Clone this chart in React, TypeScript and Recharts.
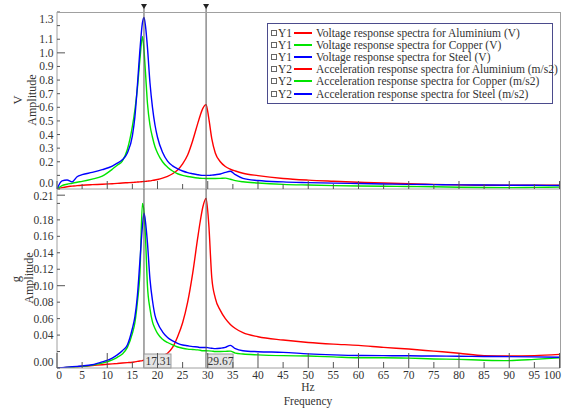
import React from 'react';
import { LineChart, Line, XAxis, YAxis, ReferenceLine } from 'recharts';

// ---------- data ----------
const freq = [0, 1, 2, 3, 4, 5, 7, 9, 11, 12, 13, 14, 15, 15.5, 16, 16.5, 17, 17.31, 17.6, 18, 18.5, 19, 19.5, 20, 21, 22, 23, 24, 25, 26, 27, 28, 28.5, 29, 29.67, 30.2, 30.8, 31.5, 32.5, 33.5, 34.5, 35.5, 37, 40, 45, 50, 55, 60, 65, 70, 75, 80, 85, 90, 95, 100];

const voltAluminium = [0, 0.01, 0.017, 0.021, 0.025, 0.028, 0.032, 0.035, 0.039, 0.041, 0.044, 0.046, 0.048, 0.05, 0.051, 0.052, 0.054, 0.055, 0.056, 0.058, 0.06, 0.063, 0.066, 0.07, 0.08, 0.093, 0.112, 0.14, 0.185, 0.25, 0.355, 0.48, 0.54, 0.59, 0.62, 0.52, 0.37, 0.265, 0.2, 0.165, 0.145, 0.132, 0.116, 0.098, 0.077, 0.065, 0.057, 0.05, 0.044, 0.039, 0.034, 0.03, 0.028, 0.027, 0.027, 0.028];
const voltCopper = [0, 0.025, 0.035, 0.042, 0.05, 0.056, 0.072, 0.095, 0.145, 0.175, 0.205, 0.29, 0.46, 0.58, 0.74, 0.95, 1.12, 1.02, 0.86, 0.63, 0.47, 0.38, 0.31, 0.265, 0.2, 0.16, 0.132, 0.112, 0.1, 0.092, 0.086, 0.081, 0.079, 0.078, 0.077, 0.077, 0.077, 0.077, 0.078, 0.08, 0.072, 0.062, 0.053, 0.044, 0.034, 0.029, 0.025, 0.022, 0.02, 0.018, 0.016, 0.013, 0.011, 0.01, 0.012, 0.014];
const voltSteel = [0, 0.06, 0.066, 0.052, 0.09, 0.105, 0.122, 0.142, 0.168, 0.19, 0.215, 0.265, 0.39, 0.53, 0.76, 1.02, 1.22, 1.26, 1.2, 1.04, 0.78, 0.6, 0.47, 0.38, 0.27, 0.205, 0.17, 0.148, 0.132, 0.12, 0.112, 0.105, 0.102, 0.1, 0.1, 0.1, 0.102, 0.105, 0.11, 0.122, 0.13, 0.105, 0.078, 0.062, 0.052, 0.047, 0.043, 0.04, 0.037, 0.034, 0.032, 0.03, 0.029, 0.028, 0.027, 0.026];

const accelAluminium = [0, 0.0003, 0.0006, 0.001, 0.0015, 0.002, 0.003, 0.004, 0.005, 0.0055, 0.006, 0.0065, 0.007, 0.0075, 0.008, 0.0085, 0.009, 0.0095, 0.01, 0.0105, 0.011, 0.012, 0.013, 0.0135, 0.015, 0.018, 0.025, 0.038, 0.055, 0.08, 0.115, 0.158, 0.178, 0.195, 0.206, 0.175, 0.11, 0.085, 0.07, 0.06, 0.053, 0.048, 0.043, 0.038, 0.034, 0.031, 0.029, 0.0275, 0.025, 0.023, 0.0205, 0.018, 0.015, 0.0145, 0.015, 0.0165];
const accelCopper = [0, 0.0003, 0.0006, 0.001, 0.0015, 0.002, 0.0035, 0.006, 0.01, 0.013, 0.017, 0.025, 0.042, 0.055, 0.08, 0.115, 0.2, 0.19, 0.16, 0.1, 0.072, 0.056, 0.048, 0.042, 0.035, 0.031, 0.028, 0.0255, 0.024, 0.023, 0.0225, 0.022, 0.0215, 0.021, 0.021, 0.0208, 0.0205, 0.02, 0.02, 0.0202, 0.0205, 0.018, 0.017, 0.016, 0.015, 0.0145, 0.0135, 0.0125, 0.0125, 0.012, 0.011, 0.0105, 0.0095, 0.009, 0.0105, 0.0125];
const accelSteel = [0, 0.0005, 0.001, 0.0015, 0.002, 0.0025, 0.004, 0.0075, 0.012, 0.016, 0.021, 0.028, 0.048, 0.062, 0.088, 0.13, 0.172, 0.188, 0.178, 0.152, 0.108, 0.082, 0.064, 0.055, 0.044, 0.037, 0.033, 0.03, 0.028, 0.027, 0.026, 0.0255, 0.025, 0.025, 0.025, 0.0245, 0.024, 0.0235, 0.024, 0.025, 0.0275, 0.0235, 0.021, 0.0198, 0.019, 0.0172, 0.016, 0.0152, 0.015, 0.0148, 0.0145, 0.0143, 0.014, 0.0138, 0.0135, 0.013];

const materials = ['Aluminium', 'Copper', 'Steel'];
const seriesColors = ['#ff0000', '#00e400', '#0000ff'];
const cursorFreqs = [17.31, 29.67];

const xTicks = [0, 5, 10, 15, 20, 25, 30, 35, 40, 45, 50, 55, 60, 65, 70, 75, 80, 85, 90, 95, 100];
const vTicks = [0, 0.1, 0.2, 0.3, 0.4, 0.5, 0.6, 0.7, 0.8, 0.9, 1.0, 1.1, 1.2, 1.3];
const vTickLabels = [0, 0.2, 0.3, 0.4, 0.5, 0.6, 0.7, 0.8, 0.9, 1.0, 1.1, 1.3];
const vLongTicks = [1.0];
const gTicks = [0, 0.02, 0.04, 0.06, 0.08, 0.1, 0.12, 0.14, 0.16, 0.18, 0.2, 0.21];
const gTickLabels = [0, 0.04, 0.06, 0.08, 0.1, 0.12, 0.14, 0.16, 0.18, 0.21];
const gLongTicks = [0.1, 0.21];

const table = freq.map((f, i) => ({
  f,
  vAl: voltAluminium[i],
  vCu: voltCopper[i],
  vSt: voltSteel[i],
  gAl: accelAluminium[i],
  gCu: accelCopper[i],
  gSt: accelSteel[i],
}));

const legendRows = [
  ...materials.map((m, i) => ({ axis: 'Y1', color: seriesColors[i], text: `Voltage response spectra for ${m} (V)` })),
  ...materials.map((m, i) => ({ axis: 'Y2', color: seriesColors[i], text: `Acceleration response spectra for ${m} (m/s2)` })),
];

// ---------- styling ----------
const FONT = "'Liberation Serif', 'Times New Roman', Times, serif";
const TEXT = '#333';
const AXIS = '#a0a0a0';
const TICK = '#555';
const W = 568;
const H = 410;
const X_MAX = 100.1;

const makeXTick = (showLabels: boolean, majorLen: number, minorLen: number) => (props: any) => {
  const { x, y, payload } = props;
  const v = payload.value;
  const len = v % 10 === 0 ? majorLen : minorLen;
  let tx = x;
  let anchor: 'middle' | 'end' = 'middle';
  if (v === 0) tx = x + 2;
  if (v === 100) {
    tx = x + 1.5;
    anchor = 'end';
  }
  return (
    <g>
      <line x1={x} x2={x} y1={y} y2={y - len} stroke={TICK} strokeWidth={1} />
      {showLabels && (
        <text x={tx} y={y + 11} textAnchor={anchor} style={{ fontFamily: FONT }} fontSize={11.5} fill={TEXT}>
          {v}
        </text>
      )}
    </g>
  );
};

const makeYTick = (labels: number[], longs: number[], digits: number, shifts: Record<string, number>) => (props: any) => {
  const { x, y, payload } = props;
  const v = payload.value;
  const len = longs.includes(v) ? 8 : 3;
  const show = labels.includes(v);
  const shift = shifts[String(v)] || 0;
  return (
    <g>
      <line x1={x} x2={x + len} y1={y} y2={y} stroke={TICK} strokeWidth={1} />
      {show && (
        <text x={x - 3.5} y={y + shift + 4} textAnchor="end" style={{ fontFamily: FONT }} fontSize={11.5} fill={TEXT}>
          {v.toFixed(digits)}
        </text>
      )}
    </g>
  );
};

const topCursorLabel = (props: any) => {
  const vb = props.viewBox || {};
  const x = vb.x;
  const y = vb.y;
  return (
    <g>
      <line x1={x} x2={x} y1={y - 7} y2={y} stroke="#555" strokeWidth={1} />
      <polygon points={`${x - 3},${y - 8} ${x + 3},${y - 8} ${x},${y - 3}`} fill="#222" />
    </g>
  );
};

const makeBottomCursorLabel = (value: number) => (props: any) => {
  const vb = props.viewBox || {};
  const x = vb.x;
  const yb = vb.y + vb.height;
  return (
    <g>
      <rect x={x} y={yb - 14} width={27} height={14} fill="#e4e4e4" stroke="#999" strokeWidth={1} />
      <text x={x + 1.5} y={yb - 3} style={{ fontFamily: FONT }} fontSize={11.5} fill={TEXT}>
        {value.toFixed(2)}
      </text>
    </g>
  );
};

const vKeys = ['vAl', 'vCu', 'vSt'];
const gKeys = ['gAl', 'gCu', 'gSt'];

const titleStyle = { fontFamily: FONT };

export default function App() {
  return (
    <div style={{ position: 'absolute', left: 0, top: 0, width: W, height: H, background: '#fff', fontFamily: FONT }}>
      {/* top panel: voltage */}
      <div style={{ position: 'absolute', left: 0, top: 0 }}>
        <LineChart width={W} height={H} data={table} margin={{ top: 12, right: 8, left: 0, bottom: H - 189 - 20 }}>
          <XAxis
            dataKey="f"
            type="number"
            domain={[0, X_MAX]}
            ticks={xTicks}
            interval={0}
            allowDataOverflow
            height={20}
            stroke={AXIS}
            tickLine={false}
            tickSize={0}
            tickMargin={0}
            tick={makeXTick(false, 8, 5)}
          />
          <YAxis
            type="number"
            domain={[0, 1.3]}
            ticks={vTicks}
            interval={0}
            allowDataOverflow
            width={57}
            stroke={AXIS}
            tickLine={false}
            tickSize={0}
            tickMargin={0}
            tick={makeYTick(vTickLabels, vLongTicks, 1, { '0': -6, '1.3': 6.5 })}
          />
          {vKeys.map((k, i) => (
            <Line key={k} dataKey={k} type="monotone" stroke={seriesColors[i]} strokeWidth={1.4} dot={false} isAnimationActive={false} />
          ))}
          {cursorFreqs.map((c) => (
            <ReferenceLine key={c} x={c} stroke="#555" strokeWidth={1} label={topCursorLabel} ifOverflow="visible" />
          ))}
        </LineChart>
      </div>

      {/* bottom panel: acceleration */}
      <div style={{ position: 'absolute', left: 0, top: 0 }}>
        <LineChart width={W} height={H} data={table} margin={{ top: 189, right: 8, left: 0, bottom: H - 368 - 20 }}>
          <XAxis
            dataKey="f"
            type="number"
            domain={[0, X_MAX]}
            ticks={xTicks}
            interval={0}
            allowDataOverflow
            height={20}
            stroke={AXIS}
            tickLine={false}
            tickSize={0}
            tickMargin={0}
            tick={makeXTick(true, 15, 6)}
          />
          <YAxis
            type="number"
            domain={[0, 0.2175]}
            ticks={gTicks}
            interval={0}
            allowDataOverflow
            width={57}
            stroke={AXIS}
            tickLine={false}
            tickSize={0}
            tickMargin={0}
            tick={makeYTick(gTickLabels, gLongTicks, 2, { '0': -6, '0.21': 1 })}
          />
          {gKeys.map((k, i) => (
            <Line key={k} dataKey={k} type="monotone" stroke={seriesColors[i]} strokeWidth={1.4} dot={false} isAnimationActive={false} />
          ))}
          {cursorFreqs.map((c) => (
            <ReferenceLine key={c} x={c} stroke="#555" strokeWidth={1} label={makeBottomCursorLabel(c)} ifOverflow="visible" />
          ))}
        </LineChart>
      </div>

      {/* frame + axis titles */}
      <svg width={W} height={H} style={{ position: 'absolute', left: 0, top: 0, pointerEvents: 'none' }}>
        <line x1={57} x2={560.5} y1={12.5} y2={12.5} stroke={AXIS} strokeWidth={1} />
        <line x1={560.5} x2={560.5} y1={12} y2={368} stroke={AXIS} strokeWidth={1} />
        <text x={18} y={100} dy={4} transform="rotate(-90 18 100)" textAnchor="middle" style={titleStyle} fontSize={12.5} fill={TEXT}>V</text>
        <text x={32} y={100} dy={4} transform="rotate(-90 32 100)" textAnchor="middle" style={titleStyle} fontSize={12} fill={TEXT}>Amplitude</text>
        <text x={16} y={279} dy={4} transform="rotate(-90 16 279)" textAnchor="middle" style={titleStyle} fontSize={12.5} fill={TEXT}>g</text>
        <text x={29} y={278} dy={4} transform="rotate(-90 29 278)" textAnchor="middle" style={titleStyle} fontSize={12} fill={TEXT}>Amplitude</text>
        <text x={308} y={391} textAnchor="middle" style={titleStyle} fontSize={11.5} fill={TEXT}>Hz</text>
        <text x={308} y={405} textAnchor="middle" style={titleStyle} fontSize={11.5} fill={TEXT}>Frequency</text>
      </svg>

      {/* legend */}
      <div
        style={{
          position: 'absolute',
          left: 267,
          top: 23,
          width: 286,
          height: 81,
          boxSizing: 'border-box',
          border: '1.5px solid #4b4b8c',
          background: '#fff',
          fontFamily: FONT,
          fontSize: 11.5,
          color: TEXT,
        }}
      >
        {legendRows.map((r, i) => (
          <div key={i} style={{ position: 'absolute', left: 0, top: Math.round(2.5 + i * 12.2), height: 12, width: '100%', lineHeight: '12px' }}>
            <div style={{ position: 'absolute', left: 3, top: 3, width: 4, height: 4, border: '1px solid #666', boxSizing: 'content-box' }} />
            <span style={{ position: 'absolute', left: 10, top: 0, whiteSpace: 'nowrap' }}>{r.axis}</span>
            <div style={{ position: 'absolute', left: 26, top: 5, width: 18, height: 2, background: r.color }} />
            <span style={{ position: 'absolute', left: 48, top: 0, whiteSpace: 'nowrap' }}>{r.text}</span>
          </div>
        ))}
      </div>
    </div>
  );
}
